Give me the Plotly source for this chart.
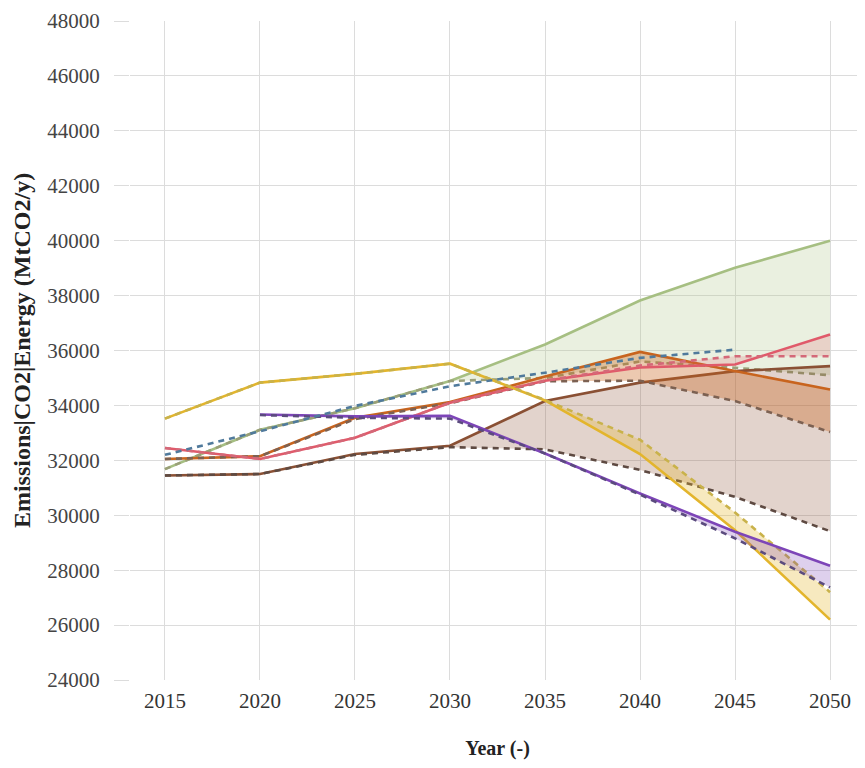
import plotly.graph_objects as go

years = [2015, 2020, 2025, 2030, 2035, 2040, 2045, 2050]
years_purple = [2020, 2025, 2030, 2035, 2040, 2045, 2050]
years_blue = [2015, 2020, 2025, 2030, 2035, 2040, 2045]

green_solid = [31680, 33110, 33900, 34890, 36220, 37820, 39010, 40000]
green_dash = [31680, 33110, 33900, 34890, 35000, 35600, 35370, 35100]

orange_solid = [32050, 32150, 33550, 34120, 35050, 35950, 35250, 34580]
orange_dash = [32050, 32150, 33500, 34080, 34880, 34900, 34160, 33030]

pink_solid = [32450, 32050, 32820, 34100, 34900, 35380, 35490, 36580]
pink_dash = [32450, 32050, 32820, 34100, 34900, 35450, 35790, 35790]

brown_solid = [31450, 31500, 32230, 32530, 34160, 34830, 35250, 35430]
brown_dash = [31450, 31500, 32200, 32480, 32400, 31650, 30670, 29420]

yellow_solid = [33520, 34830, 35150, 35520, 34180, 32230, 29450, 26200]
yellow_dash = [33520, 34830, 35150, 35520, 34200, 32750, 30100, 27200]

purple_solid = [33670, 33600, 33620, 32250, 30790, 29400, 28160]
purple_dash = [33650, 33550, 33520, 32250, 30750, 29160, 27370]

blue_dash = [32200, 33060, 33980, 34700, 35190, 35730, 36030]

y_ticks = list(range(24000, 48001, 2000))
y_tick_labels = [str(v) for v in y_ticks]
x_ticks = years
x_tick_labels = [str(v) for v in years]

series = [
    # name, x, solid, dashed, line color, dash color, fill color
    ("green", years, green_solid, green_dash, "#A6BF82", "#9A9F78", "rgba(170,195,130,0.25)"),
    ("brown", years, brown_solid, brown_dash, "#8A5034", "#5E4A42", "rgba(139,80,52,0.25)"),
    ("orange", years, orange_solid, orange_dash, "#C8641E", "#7C6152", "rgba(200,100,30,0.35)"),
    ("pink", years, pink_solid, pink_dash, "#E05A6A", "#D46878", "rgba(226,90,106,0.2)"),
    ("yellow", years, yellow_solid, yellow_dash, "#E3B52C", "#C9B24A", "rgba(227,181,44,0.3)"),
    ("purple", years_purple, purple_solid, purple_dash, "#7D45B8", "#5B4B7E", "rgba(125,69,184,0.25)"),
]

fig = go.Figure()
for name, xs, sol, dsh, lc, dc, fc in series:
    fig.add_trace(go.Scatter(x=xs, y=sol, mode="lines", name=name,
                             line=dict(color=lc, width=2.6), showlegend=False))
    fig.add_trace(go.Scatter(x=xs, y=dsh, mode="lines", name=name + " ref",
                             line=dict(color=dc, width=2.6, dash="6px,5px"),
                             fill="tonexty", fillcolor=fc, showlegend=False))

fig.add_trace(go.Scatter(x=years_blue, y=blue_dash, mode="lines", name="blue",
                         line=dict(color="#507A9C", width=2.6, dash="6px,5px"),
                         showlegend=False))

fig.update_layout(
    width=865, height=768,
    margin=dict(l=122, r=8, t=13, b=96),
    plot_bgcolor="white", paper_bgcolor="white",
    font=dict(family="Liberation Serif", color="#333"),
    xaxis=dict(range=[2013.16, 2051.84], tickvals=x_ticks, ticktext=x_tick_labels,
               showgrid=True, automargin=False,
               gridcolor="#dcdcdc", gridwidth=1, zeroline=False, showline=False,
               tickfont=dict(family="Liberation Serif", size=21, color="#333"),
               ticks="", ticklabelstandoff=6,
               title=dict(text="<b>Year (-)</b>", font=dict(family="Liberation Serif", size=20, color="#222"),
                          standoff=28)),
    yaxis=dict(range=[24000, 48000], tickvals=y_ticks, ticktext=y_tick_labels,
               showgrid=True, automargin=False,
               gridcolor="#dcdcdc", gridwidth=1, zeroline=False, showline=False,
               ticks="outside", ticklen=15, tickcolor="#dcdcdc",
               tickfont=dict(family="Liberation Serif", size=21, color="#444"),
               ticklabelstandoff=10,
               title=dict(text="<b>Emissions|CO2|Energy (MtCO2/y)</b>",
                          font=dict(family="Liberation Serif", size=24, color="#222"),
                          standoff=9)),
)

fig.write_html("out.html")
